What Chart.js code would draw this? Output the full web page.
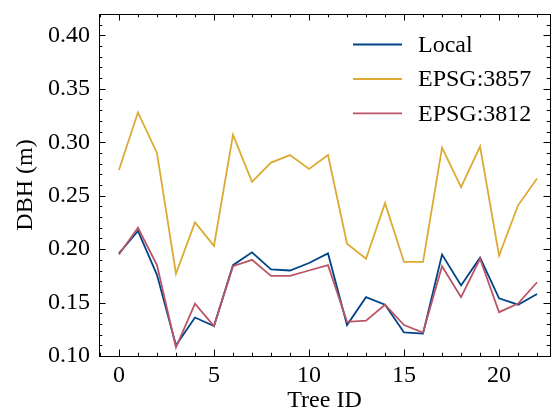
<!DOCTYPE html>
<html>
<head>
<meta charset="utf-8">
<script src="https://cdn.jsdelivr.net/npm/chart.js@4.4.1/dist/chart.umd.min.js"></script>
<style>
  html, body { margin: 0; padding: 0; background: #fff; }
  #wrap { width: 556px; height: 412px; }
</style>
</head>
<body>
<div id="wrap"><canvas id="dbhChart" width="556" height="412"></canvas></div>
<script>
// DBH per tree, three coordinate systems
const treeIds = [0, 1, 2, 3, 4, 5, 6, 7, 8, 9, 10, 11, 12, 13, 14, 15, 16, 17, 18, 19, 20, 21, 22];
const localDbh = [0.196, 0.217, 0.176, 0.110, 0.136, 0.128, 0.185, 0.197, 0.181, 0.180, 0.187, 0.196,
                  0.129, 0.155, 0.148, 0.122, 0.121, 0.195, 0.166, 0.192, 0.154, 0.148, 0.158];
const epsg3857Dbh = [0.274, 0.328, 0.290, 0.177, 0.225, 0.203, 0.307, 0.263, 0.281, 0.288, 0.275, 0.288,
                     0.205, 0.191, 0.243, 0.188, 0.188, 0.295, 0.258, 0.296, 0.194, 0.241, 0.266];
const epsg3812Dbh = [0.195, 0.220, 0.185, 0.108, 0.149, 0.128, 0.184, 0.190, 0.175, 0.175, 0.180, 0.185,
                     0.132, 0.133, 0.148, 0.129, 0.122, 0.184, 0.155, 0.191, 0.141, 0.149, 0.169];

const xTicks = [0, 5, 10, 15, 20];
const yTicks = [0.10, 0.15, 0.20, 0.25, 0.30, 0.35, 0.40];

const FONT = "'Liberation Serif', 'Times New Roman', serif";
const FONT_SIZE = 24;

const series = [
    { label: 'Local', data: localDbh, color: '#004488', order: 3 },
    { label: 'EPSG:3857', data: epsg3857Dbh, color: '#DDAA33', order: 2 },
    { label: 'EPSG:3812', data: epsg3812Dbh, color: '#BB5566', order: 1 },
];

// ---- frame + inward ticks on all four sides, and the legend box ----
const frameTicks = {
    id: 'frameTicks',
    afterDraw(chart) {
        const { ctx, chartArea: a, scales } = chart;
        const xs = scales.x, ys = scales.y;
        ctx.save();
        ctx.strokeStyle = '#000';
        ctx.lineWidth = 1;
        ctx.strokeRect(Math.round(a.left) + 0.5, Math.round(a.top) + 0.5,
            Math.round(a.right - a.left), Math.round(a.bottom - a.top));

        const tick = (px, major, vertical) => {
            const len = major ? 6.5 : 3.3;
            ctx.beginPath();
            if (vertical) {
                const x = Math.round(px) + 0.5;
                ctx.moveTo(x, a.bottom); ctx.lineTo(x, a.bottom - len);
                ctx.moveTo(x, a.top); ctx.lineTo(x, a.top + len);
            } else {
                const y = Math.round(px) + 0.5;
                ctx.moveTo(a.left, y); ctx.lineTo(a.left + len, y);
                ctx.moveTo(a.right, y); ctx.lineTo(a.right - len, y);
            }
            ctx.stroke();
        };
        for (let v = -1; v <= 22; v++) {
            tick(xs.getPixelForValue(v), v % 5 === 0, true);
        }
        for (let k = 10; k <= 42; k++) {
            tick(ys.getPixelForValue(k / 100), k % 5 === 0, false);
        }

        // legend
        const rows = [44.5, 79, 113.3];
        ctx.font = FONT_SIZE + 'px ' + FONT;
        ctx.textBaseline = 'middle';
        ctx.fillStyle = '#000';
        chart.data.datasets.forEach((ds, i) => {
            ctx.strokeStyle = ds.borderColor;
            ctx.lineWidth = 1.8;
            ctx.beginPath();
            ctx.moveTo(353, rows[i]);
            ctx.lineTo(402, rows[i]);
            ctx.stroke();
            ctx.fillText(ds.label, 418, rows[i] + 1);
        });
        ctx.restore();
    },
};

new Chart(document.getElementById('dbhChart'), {
    type: 'line',
    data: {
        datasets: series.map((s) => ({
            label: s.label,
            data: treeIds.map((id, i) => ({ x: id, y: s.data[i] })),
            borderColor: s.color,
            backgroundColor: s.color,
            borderWidth: 1.8,
            pointRadius: 0,
            tension: 0,
            order: s.order,
        })),
    },
    options: {
        responsive: false,
        devicePixelRatio: 1,
        animation: false,
        layout: { padding: { top: 14, right: 6, left: 0, bottom: 0 } },
        plugins: { legend: { display: false }, tooltip: { enabled: false } },
        scales: {
            x: {
                type: 'linear',
                min: -1.05,
                max: 22.68,
                afterBuildTicks: (s) => { s.ticks = xTicks.map((v) => ({ value: v })); },
                afterFit: (s) => {
                    s.height = 56;
                    s.paddingLeft = 0;
                    s.paddingRight = 0;
                },
                grid: { display: false, drawTicks: false },
                border: { display: false },
                ticks: {
                    padding: 5,
                    color: '#000',
                    font: { family: FONT, size: FONT_SIZE },
                    maxRotation: 0,
                    callback: (v) => String(v),
                },
                title: {
                    display: true,
                    text: 'Tree ID',
                    color: '#000',
                    font: { family: FONT, size: FONT_SIZE, lineHeight: 1 },
                    padding: { top: 0, bottom: -1 },
                },
            },
            y: {
                min: 0.10,
                max: 0.42,
                afterBuildTicks: (s) => { s.ticks = yTicks.map((v) => ({ value: v })); },
                afterFit: (s) => {
                    s.width = 99;
                    s.paddingTop = 0;
                    s.paddingBottom = 0;
                },
                grid: { display: false, drawTicks: false },
                border: { display: false },
                ticks: {
                    padding: 9,
                    color: '#000',
                    font: { family: FONT, size: FONT_SIZE },
                    callback: (v) => v.toFixed(2),
                },
                title: {
                    display: true,
                    text: 'DBH (m)',
                    color: '#000',
                    font: { family: FONT, size: FONT_SIZE, lineHeight: 1 },
                    padding: { top: 14, bottom: 0 },
                },
            },
        },
    },
    plugins: [frameTicks],
});
</script>
</body>
</html>
